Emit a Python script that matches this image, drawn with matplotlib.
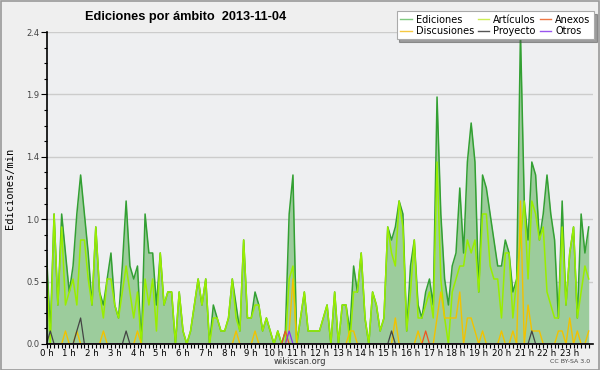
import matplotlib
matplotlib.use("Agg")
import matplotlib.pyplot as plt
import numpy as np

# 10-minute buckets, edits/min
ediciones = [0.7, 0.1, 1.0, 0.3, 1.0, 0.7, 0.4, 0.6, 1.0, 1.3, 1.0, 0.7, 0.3, 0.9, 0.4, 0.3, 0.5, 0.7, 0.3, 0.2,
             0.6, 1.1, 0.6, 0.5, 0.6, 0.0, 1.0, 0.7, 0.7, 0.3, 0.7, 0.3, 0.4, 0.4, 0.0, 0.4, 0.1, 0.0, 0.1, 0.3,
             0.5, 0.3, 0.5, 0.0, 0.3, 0.2, 0.1, 0.1, 0.2, 0.5, 0.3, 0.1, 0.8, 0.2, 0.2, 0.4, 0.3, 0.1, 0.2, 0.1,
             0.0, 0.1, 0.0, 0.1, 1.0, 1.3, 0.0, 0.2, 0.4, 0.1, 0.1, 0.1, 0.1, 0.2, 0.3, 0.0, 0.4, 0.0, 0.3, 0.3,
             0.1, 0.6, 0.4, 0.7, 0.2, 0.0, 0.4, 0.3, 0.1, 0.2, 0.9, 0.8, 0.9, 1.1, 1.0, 0.1, 0.6, 0.8, 0.3, 0.2,
             0.4, 0.5, 0.3, 1.9, 1.0, 0.5, 0.3, 0.6, 0.7, 1.2, 0.7, 1.4, 1.7, 1.4, 0.4, 1.3, 1.2, 1.0, 0.8, 0.6,
             0.6, 0.8, 0.7, 0.4, 0.5, 2.4, 1.1, 0.8, 1.4, 1.3, 0.8, 1.0, 1.3, 1.0, 0.8, 0.2, 1.1, 0.3, 0.7, 0.9,
             0.2, 1.0, 0.7, 0.9]
articulos = [0.6, 0.0, 1.0, 0.3, 0.9, 0.3, 0.4, 0.5, 0.3, 0.8, 0.8, 0.5, 0.3, 0.9, 0.4, 0.2, 0.5, 0.5, 0.3, 0.2,
             0.4, 0.6, 0.4, 0.2, 0.4, 0.0, 0.5, 0.3, 0.5, 0.1, 0.7, 0.3, 0.4, 0.4, 0.0, 0.4, 0.1, 0.0, 0.1, 0.3,
             0.5, 0.3, 0.5, 0.0, 0.2, 0.2, 0.1, 0.1, 0.2, 0.5, 0.2, 0.1, 0.8, 0.2, 0.2, 0.3, 0.3, 0.1, 0.2, 0.1,
             0.0, 0.1, 0.0, 0.0, 0.5, 0.6, 0.0, 0.2, 0.4, 0.1, 0.1, 0.1, 0.1, 0.2, 0.3, 0.0, 0.4, 0.0, 0.3, 0.3,
             0.0, 0.4, 0.4, 0.7, 0.2, 0.0, 0.4, 0.3, 0.1, 0.2, 0.9, 0.7, 0.6, 1.1, 0.9, 0.1, 0.4, 0.8, 0.2, 0.2,
             0.3, 0.4, 0.2, 1.4, 0.5, 0.2, 0.0, 0.4, 0.5, 0.6, 0.6, 0.8, 0.7, 0.8, 0.4, 1.0, 1.0, 0.6, 0.5, 0.5,
             0.2, 0.7, 0.7, 0.2, 0.5, 0.8, 1.1, 0.5, 1.1, 1.0, 0.8, 0.9, 0.4, 0.3, 0.2, 0.2, 0.9, 0.3, 0.7, 0.9,
             0.2, 0.4, 0.6, 0.5]
discusiones = [0, 0, 0, 0, 0, 0.1, 0, 0, 0.1, 0, 0, 0, 0, 0, 0, 0.1, 0, 0, 0, 0,
               0, 0, 0, 0, 0.1, 0, 0, 0, 0, 0, 0, 0, 0, 0, 0, 0, 0, 0, 0, 0,
               0, 0, 0, 0, 0, 0, 0, 0, 0, 0, 0.1, 0, 0, 0, 0, 0.1, 0, 0, 0, 0,
               0, 0, 0, 0, 0.1, 0.5, 0, 0, 0, 0, 0, 0, 0, 0, 0, 0, 0, 0, 0, 0,
               0.1, 0.1, 0, 0, 0, 0, 0, 0, 0, 0, 0, 0, 0.2, 0, 0, 0, 0, 0, 0.1, 0,
               0, 0, 0, 0.2, 0.4, 0.2, 0.2, 0.2, 0.2, 0.4, 0, 0.2, 0.2, 0.1, 0, 0.1, 0, 0, 0, 0,
               0.1, 0, 0, 0.1, 0, 1.1, 0, 0.3, 0.1, 0.1, 0.1, 0, 0, 0, 0, 0.1, 0.1, 0, 0.2, 0,
               0.1, 0, 0, 0.1]
proyecto_idx = [1, 8, 9, 21, 91, 128]
proyecto_val = [0.1, 0.1, 0.2, 0.1, 0.1, 0.1]
anexos_idx = [63, 100]
anexos_val = [0.1, 0.1]
otros_idx = [64]
otros_val = [0.1]

n = len(ediciones)
horas = np.arange(n) / 6.0

proyecto = np.zeros(n)
proyecto[proyecto_idx] = proyecto_val
anexos = np.zeros(n)
anexos[anexos_idx] = anexos_val
otros = np.zeros(n)
otros[otros_idx] = otros_val

fig = plt.figure(figsize=(6, 3.7), dpi=100, facecolor='#efefef')
ax = fig.add_axes([0.0775, 0.0703, 0.91, 0.8432])
ax.set_facecolor('#eeeff1')

ax.fill_between(horas, ediciones, 0, color='#9ccc9c', lw=0)
ax.plot(horas, ediciones, color='#33a033', lw=1.1, label='Ediciones')
ax.plot(horas, articulos, color='#99ee00', lw=1.1, label='Artículos')
ax.plot(horas, discusiones, color='#f2c200', lw=1.0, label='Discusiones')
ax.plot(horas, proyecto, color='#444444', lw=0.9, label='Proyecto')
ax.plot(horas, anexos, color='#ee5522', lw=0.9, label='Anexos')
ax.plot(horas, otros, color='#8833ee', lw=0.9, label='Otros')

ax.set_xlim(0, 24)
ax.set_ylim(0, 2.4)
ax.set_xticks(range(24))
ax.set_xticklabels([f'{h} h' for h in range(24)], fontsize=6.2)
ax.set_xticks(np.arange(0, 24, 1 / 6), minor=True)
yt = [0, 0.48, 0.96, 1.44, 1.92, 2.4]
ax.set_yticks(yt)
ax.set_yticklabels([f'{v:.1f}' for v in yt], fontsize=6, color='#444444')
ax.set_yticks(np.arange(0, 2.41, 0.12), minor=True)
ax.tick_params(axis='x', which='major', length=3, width=0.8, pad=0.5)
ax.tick_params(axis='x', which='minor', length=3, width=0.8)
ax.tick_params(axis='y', which='major', length=4, width=0.8, pad=1)
ax.tick_params(axis='y', which='minor', length=2.5, width=0.8)
ax.grid(axis='y', which='major', color='#cccccc', lw=1)
ax.set_axisbelow(True)
for s in ['top', 'right']:
    ax.spines[s].set_visible(False)
ax.spines['left'].set_linewidth(1.2)
ax.spines['bottom'].set_linewidth(1.2)

ax.set_ylabel('Ediciones/min', fontsize=7.5, family='DejaVu Sans Mono', labelpad=8)

# legend order fills column by column
orden = ['Ediciones', 'Discusiones', 'Artículos', 'Proyecto', 'Anexos', 'Otros']
legend_colors = {'Ediciones': '#7fc97f', 'Artículos': '#ccee55', 'Discusiones': '#f5c842',
                 'Proyecto': '#555555', 'Anexos': '#ee7744', 'Otros': '#9955ee'}
hs = [plt.Line2D([], [], color=legend_colors[l], lw=1) for l in orden]
leg = fig.legend(hs, orden, loc='upper right', bbox_to_anchor=(0.99, 0.97), ncol=3,
                 fontsize=7, frameon=True, fancybox=False, shadow=True, handlelength=1.2,
                 handletextpad=0.4, columnspacing=0.4, labelspacing=0.15, borderpad=0.35,
                 borderaxespad=0)
leg.get_frame().set_edgecolor('#aaaaaa')
leg.get_frame().set_linewidth(0.8)

fig.text(0.142, 0.955, 'Ediciones por ámbito  2013-11-04', fontsize=9.2, fontweight='bold',
         family='Liberation Sans', ha='left', va='center')
fig.text(0.5, 0.022, 'wikiscan.org', fontsize=6, ha='center', va='center', color='#333333')
fig.text(0.983, 0.022, 'CC BY-SA 3.0', fontsize=4.5, ha='right', va='center', color='#444444')

fig.patches.append(plt.Rectangle((0.001, 0.001), 0.997, 0.996, transform=fig.transFigure,
                                 fill=False, edgecolor='#999999', lw=1.2))

fig.savefig('out.png', dpi=100, facecolor=fig.get_facecolor())
